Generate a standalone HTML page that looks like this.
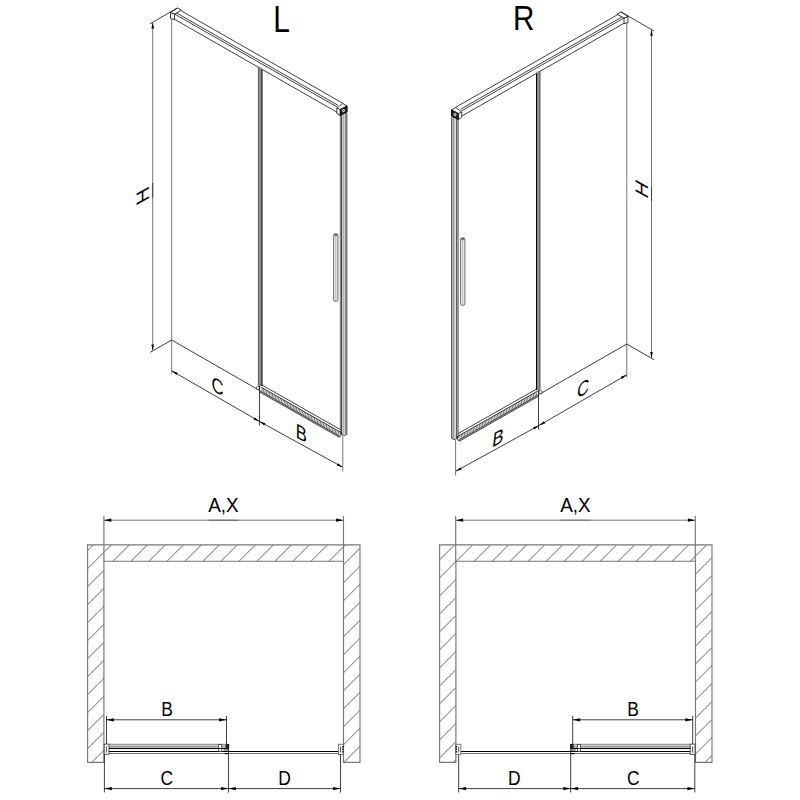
<!DOCTYPE html>
<html lang="en"><head><meta charset="utf-8"><title>Sliding door dimensions L / R</title>
<style>html,body{margin:0;padding:0;background:#fff}svg{display:block}</style></head><body>
<svg width="800" height="800" viewBox="0 0 800 800" font-family="'Liberation Sans', Arial, sans-serif">
<rect width="800" height="800" fill="#fff"/>
<defs>
<g id="iso" stroke="#000" stroke-width="0.75" fill="none">
<line x1="171.70" y1="18.50" x2="171.70" y2="373.50" stroke="#777" stroke-width="1"/>
<line x1="171.70" y1="340.00" x2="259.40" y2="390.40" />
<line x1="181.50" y1="11.00" x2="343.20" y2="103.49" />
<line x1="175.50" y1="12.37" x2="338.00" y2="105.32" />
<line x1="175.00" y1="14.28" x2="337.30" y2="107.12" />
<line x1="174.50" y1="19.29" x2="337.00" y2="112.24" />
<polygon points="170.5,12.5 174.5,14 174.5,19.6 170.5,18.5" fill="#fff"/>
<polygon points="170.5,12.5 177.5,7.9 181.5,10.2 174.5,14" fill="#fff"/>
<rect x="258.5" y="67.5" width="3.5" height="318.5" fill="#8c8c8c" stroke="none"/>
<line x1="258.40" y1="67.20" x2="258.40" y2="386.00" stroke-width="0.7" stroke="#333"/>
<line x1="262.00" y1="69.40" x2="262.00" y2="386.00" stroke-width="1.0"/>
<rect x="340.2" y="114" width="6.6" height="320.5" fill="#f6f6f6" stroke="none"/>
<line x1="340.30" y1="113.00" x2="340.30" y2="434.50" stroke="#333" stroke-width="0.7"/>
<line x1="341.70" y1="113.00" x2="341.70" y2="434.50" stroke="#000" stroke-width="0.9"/>
<line x1="343.60" y1="113.00" x2="343.60" y2="434.50" stroke="#777" stroke-width="0.6"/>
<line x1="345.30" y1="113.00" x2="345.30" y2="434.50" stroke="#333" stroke-width="0.7"/>
<line x1="346.80" y1="113.00" x2="346.80" y2="434.50" stroke="#111" stroke-width="0.8"/>
<polyline points="341.6,434.5 344.4,435.6 346.8,434.3"/>
<polygon points="336.8,108.2 342.6,103.5 347,105.8 347,112 340,115.4 336.8,113.6" fill="#fff"/>
<polygon points="340,109.4 347,105.8 347,112 340,115.4" fill="#222"/>
<circle cx="343.5" cy="110.6" r="1.8" fill="#e8e8e8" stroke-width="0.5"/>
<circle cx="343.6" cy="110.6" r="0.5" fill="#000" stroke="none"/>
<line x1="336.80" y1="108.20" x2="340.00" y2="109.40" />
<line x1="261.50" y1="384.77" x2="340.30" y2="429.53" />
<line x1="260.50" y1="386.80" x2="341.00" y2="432.53" />
<line x1="260.00" y1="390.92" x2="340.50" y2="436.64" />
<line x1="259.50" y1="391.94" x2="339.50" y2="437.38" />
<line x1="262.40" y1="387.86" x2="261.60" y2="391.86" stroke-width="0.6" stroke="#222"/>
<line x1="263.90" y1="388.71" x2="263.10" y2="392.71" stroke-width="0.6" stroke="#222"/>
<line x1="265.40" y1="389.56" x2="264.60" y2="393.56" stroke-width="0.6" stroke="#222"/>
<line x1="266.90" y1="390.41" x2="266.10" y2="394.41" stroke-width="0.6" stroke="#222"/>
<line x1="268.40" y1="391.26" x2="267.60" y2="395.26" stroke-width="0.6" stroke="#222"/>
<line x1="269.90" y1="392.12" x2="269.10" y2="396.12" stroke-width="0.6" stroke="#222"/>
<line x1="271.40" y1="392.97" x2="270.60" y2="396.97" stroke-width="0.6" stroke="#222"/>
<line x1="272.90" y1="393.82" x2="272.10" y2="397.82" stroke-width="0.6" stroke="#222"/>
<line x1="274.40" y1="394.67" x2="273.60" y2="398.67" stroke-width="0.6" stroke="#222"/>
<line x1="275.90" y1="395.52" x2="275.10" y2="399.52" stroke-width="0.6" stroke="#222"/>
<line x1="277.40" y1="396.38" x2="276.60" y2="400.38" stroke-width="0.6" stroke="#222"/>
<line x1="278.90" y1="397.23" x2="278.10" y2="401.23" stroke-width="0.6" stroke="#222"/>
<line x1="280.40" y1="398.08" x2="279.60" y2="402.08" stroke-width="0.6" stroke="#222"/>
<line x1="281.90" y1="398.93" x2="281.10" y2="402.93" stroke-width="0.6" stroke="#222"/>
<line x1="283.40" y1="399.78" x2="282.60" y2="403.78" stroke-width="0.6" stroke="#222"/>
<line x1="284.90" y1="400.64" x2="284.10" y2="404.64" stroke-width="0.6" stroke="#222"/>
<line x1="286.40" y1="401.49" x2="285.60" y2="405.49" stroke-width="0.6" stroke="#222"/>
<line x1="287.90" y1="402.34" x2="287.10" y2="406.34" stroke-width="0.6" stroke="#222"/>
<line x1="289.40" y1="403.19" x2="288.60" y2="407.19" stroke-width="0.6" stroke="#222"/>
<line x1="290.90" y1="404.04" x2="290.10" y2="408.04" stroke-width="0.6" stroke="#222"/>
<line x1="292.40" y1="404.90" x2="291.60" y2="408.90" stroke-width="0.6" stroke="#222"/>
<line x1="293.90" y1="405.75" x2="293.10" y2="409.75" stroke-width="0.6" stroke="#222"/>
<line x1="295.40" y1="406.60" x2="294.60" y2="410.60" stroke-width="0.6" stroke="#222"/>
<line x1="296.90" y1="407.45" x2="296.10" y2="411.45" stroke-width="0.6" stroke="#222"/>
<line x1="298.40" y1="408.30" x2="297.60" y2="412.30" stroke-width="0.6" stroke="#222"/>
<line x1="299.90" y1="409.16" x2="299.10" y2="413.16" stroke-width="0.6" stroke="#222"/>
<line x1="301.40" y1="410.01" x2="300.60" y2="414.01" stroke-width="0.6" stroke="#222"/>
<line x1="302.90" y1="410.86" x2="302.10" y2="414.86" stroke-width="0.6" stroke="#222"/>
<line x1="304.40" y1="411.71" x2="303.60" y2="415.71" stroke-width="0.6" stroke="#222"/>
<line x1="305.90" y1="412.56" x2="305.10" y2="416.56" stroke-width="0.6" stroke="#222"/>
<line x1="307.40" y1="413.42" x2="306.60" y2="417.42" stroke-width="0.6" stroke="#222"/>
<line x1="308.90" y1="414.27" x2="308.10" y2="418.27" stroke-width="0.6" stroke="#222"/>
<line x1="310.40" y1="415.12" x2="309.60" y2="419.12" stroke-width="0.6" stroke="#222"/>
<line x1="311.90" y1="415.97" x2="311.10" y2="419.97" stroke-width="0.6" stroke="#222"/>
<line x1="313.40" y1="416.82" x2="312.60" y2="420.82" stroke-width="0.6" stroke="#222"/>
<line x1="314.90" y1="417.68" x2="314.10" y2="421.68" stroke-width="0.6" stroke="#222"/>
<line x1="316.40" y1="418.53" x2="315.60" y2="422.53" stroke-width="0.6" stroke="#222"/>
<line x1="317.90" y1="419.38" x2="317.10" y2="423.38" stroke-width="0.6" stroke="#222"/>
<line x1="319.40" y1="420.23" x2="318.60" y2="424.23" stroke-width="0.6" stroke="#222"/>
<line x1="320.90" y1="421.08" x2="320.10" y2="425.08" stroke-width="0.6" stroke="#222"/>
<line x1="322.40" y1="421.94" x2="321.60" y2="425.94" stroke-width="0.6" stroke="#222"/>
<line x1="323.90" y1="422.79" x2="323.10" y2="426.79" stroke-width="0.6" stroke="#222"/>
<line x1="325.40" y1="423.64" x2="324.60" y2="427.64" stroke-width="0.6" stroke="#222"/>
<line x1="326.90" y1="424.49" x2="326.10" y2="428.49" stroke-width="0.6" stroke="#222"/>
<line x1="328.40" y1="425.34" x2="327.60" y2="429.34" stroke-width="0.6" stroke="#222"/>
<line x1="329.90" y1="426.20" x2="329.10" y2="430.20" stroke-width="0.6" stroke="#222"/>
<line x1="331.40" y1="427.05" x2="330.60" y2="431.05" stroke-width="0.6" stroke="#222"/>
<line x1="332.90" y1="427.90" x2="332.10" y2="431.90" stroke-width="0.6" stroke="#222"/>
<line x1="334.40" y1="428.75" x2="333.60" y2="432.75" stroke-width="0.6" stroke="#222"/>
<line x1="335.90" y1="429.60" x2="335.10" y2="433.60" stroke-width="0.6" stroke="#222"/>
<line x1="337.40" y1="430.46" x2="336.60" y2="434.46" stroke-width="0.6" stroke="#222"/>
<line x1="338.90" y1="431.31" x2="338.10" y2="435.31" stroke-width="0.6" stroke="#222"/>
<polygon points="256.2,387.6 258.8,386.2 259.8,388.6 257.2,390" fill="#fff" stroke-width="0.6"/>
<polyline points="339.5,436.7 341.2,435.2 341.2,432.2"/>
<rect x="333.6" y="233.8" width="4.3" height="67.6" rx="2.1" ry="1.5" fill="#f2f2f2" stroke="#333" stroke-width="0.7"/>
<line x1="335.80" y1="236.00" x2="335.80" y2="301.00" stroke="#999" stroke-width="0.7"/>
<ellipse cx="335.7" cy="235" rx="1.3" ry="0.8" stroke-width="0.6"/>
<line x1="171.70" y1="370.80" x2="259.40" y2="421.40" /><polygon points="171.70,370.80 177.72,372.77 176.42,375.02" fill="#000" stroke="none"/><polygon points="259.40,421.40 253.38,419.43 254.68,417.18" fill="#000" stroke="none"/>
<line x1="259.40" y1="421.40" x2="342.80" y2="467.30" /><polygon points="259.40,421.40 265.46,423.25 264.20,425.53" fill="#000" stroke="none"/><polygon points="342.80,467.30 336.74,465.45 338.00,463.17" fill="#000" stroke="none"/>
</g>
<g id="planc" stroke="#000" stroke-width="0.75" fill="none">
<line x1="103.90" y1="516.00" x2="103.90" y2="561.20" stroke="#777" stroke-width="1.15"/>
<line x1="343.50" y1="516.00" x2="343.50" y2="561.20" stroke="#777" stroke-width="1.15"/>
<g stroke="#777" stroke-width="1"><line x1="103.90" y1="520.20" x2="343.50" y2="520.20" /><polygon points="103.90,520.20 111.30,518.55 111.30,521.85" fill="#000" stroke="none"/><polygon points="343.50,520.20 336.10,521.85 336.10,518.55" fill="#000" stroke="none"/></g>
<line x1="106.50" y1="716.00" x2="106.50" y2="744.00" />
<line x1="226.50" y1="716.00" x2="226.50" y2="748.00" />
<line x1="106.50" y1="719.80" x2="226.50" y2="719.80" /><polygon points="106.50,719.80 113.90,718.15 113.90,721.45" fill="#000" stroke="none"/><polygon points="226.50,719.80 219.10,721.45 219.10,718.15" fill="#000" stroke="none"/>
<line x1="104.40" y1="754.00" x2="104.40" y2="792.50" />
<line x1="228.50" y1="744.00" x2="228.50" y2="792.50" />
<line x1="340.50" y1="747.50" x2="340.50" y2="792.50" />
<line x1="104.40" y1="788.60" x2="228.50" y2="788.60" /><polygon points="104.40,788.60 111.80,786.95 111.80,790.25" fill="#000" stroke="none"/><polygon points="228.50,788.60 221.10,790.25 221.10,786.95" fill="#000" stroke="none"/>
<line x1="228.50" y1="788.60" x2="340.50" y2="788.60" /><polygon points="228.50,788.60 235.90,786.95 235.90,790.25" fill="#000" stroke="none"/><polygon points="340.50,788.60 333.10,790.25 333.10,786.95" fill="#000" stroke="none"/>
<rect x="104.2" y="744.1" width="4.8" height="10.2" fill="#fff" stroke="#333" stroke-width="0.8"/>
<line x1="106.60" y1="746.50" x2="106.60" y2="752.50" stroke-width="0.7"/>
<line x1="109.00" y1="744.30" x2="228.50" y2="744.30" stroke="#666" stroke-width="0.8"/>
<line x1="109.00" y1="746.20" x2="227.00" y2="746.20" stroke="#444" stroke-width="0.8"/>
<line x1="109.00" y1="748.40" x2="228.50" y2="748.40" stroke-width="1.1"/>
<line x1="109.00" y1="751.50" x2="340.00" y2="751.50" stroke-width="1.1"/>
<line x1="109.00" y1="753.50" x2="340.00" y2="753.50" stroke="#555" stroke-width="0.8"/>
<rect x="218.8" y="744.3" width="3" height="4" fill="#fff" stroke-width="0.6"/>
<rect x="218.8" y="748.6" width="3" height="3" fill="#fff" stroke-width="0.6"/>
<rect x="225.6" y="744" width="3.6" height="4.2" fill="#222" stroke="none"/>
<line x1="223.50" y1="750.00" x2="228.50" y2="750.00" stroke-width="0.8"/>
<line x1="224.50" y1="753.60" x2="229.00" y2="753.60" stroke-width="1.1"/>
<rect x="338.3" y="744.2" width="5" height="10.2" fill="#fff" stroke="#444" stroke-width="0.7"/>
<line x1="340.50" y1="746.50" x2="340.50" y2="752.50" stroke-width="0.7"/>
<line x1="342.80" y1="746.00" x2="342.80" y2="752.50" stroke-width="1.2" stroke-dasharray="1.5 1"/>
</g>
</defs>
<use href="#iso"/>
<use href="#iso" transform="translate(798.5,4) scale(-1,1)"/>
<g stroke="#000" stroke-width="0.75" fill="none">
<line x1="259.50" y1="386.00" x2="259.50" y2="425.60" />
<line x1="342.80" y1="436.00" x2="342.80" y2="471.50" stroke="#777" stroke-width="1"/>
<line x1="538.50" y1="390.00" x2="538.50" y2="429.60" />
<line x1="455.60" y1="440.00" x2="455.60" y2="475.50" stroke="#777" stroke-width="1"/>
<line x1="177.50" y1="7.90" x2="150.00" y2="23.80" />
<line x1="171.70" y1="340.00" x2="150.20" y2="352.30" />
<g stroke="#777" stroke-width="1"><line x1="152.70" y1="22.30" x2="152.70" y2="350.80" /><polygon points="152.70,22.30 154.00,28.50 151.40,28.50" fill="#000" stroke="none"/><polygon points="152.70,350.80 151.40,344.60 154.00,344.60" fill="#000" stroke="none"/></g>
<line x1="621.00" y1="11.90" x2="654.00" y2="31.00" />
<line x1="626.80" y1="344.00" x2="654.00" y2="359.70" />
<g stroke="#777" stroke-width="1"><line x1="651.50" y1="29.60" x2="651.50" y2="358.20" /><polygon points="651.50,29.60 652.80,35.80 650.20,35.80" fill="#000" stroke="none"/><polygon points="651.50,358.20 650.20,352.00 652.80,352.00" fill="#000" stroke="none"/></g>
</g>
<g fill="none"><clipPath id="cw1"><path d="M87.6,544.9 H360.0 V762.4 H343.5 V561.2 H103.9 V762.4 H87.6 Z"/></clipPath>
<path d="M85.60,534.70 L362.00,258.30 M85.60,552.70 L362.00,276.30 M85.60,570.70 L362.00,294.30 M85.60,588.70 L362.00,312.30 M85.60,606.70 L362.00,330.30 M85.60,624.70 L362.00,348.30 M85.60,642.70 L362.00,366.30 M85.60,660.70 L362.00,384.30 M85.60,678.70 L362.00,402.30 M85.60,696.70 L362.00,420.30 M85.60,714.70 L362.00,438.30 M85.60,732.70 L362.00,456.30 M85.60,750.70 L362.00,474.30 M85.60,768.70 L362.00,492.30 M85.60,786.70 L362.00,510.30 M85.60,804.70 L362.00,528.30 M85.60,822.70 L362.00,546.30 M85.60,840.70 L362.00,564.30 M85.60,858.70 L362.00,582.30 M85.60,876.70 L362.00,600.30 M85.60,894.70 L362.00,618.30 M85.60,912.70 L362.00,636.30 M85.60,930.70 L362.00,654.30 M85.60,948.70 L362.00,672.30 M85.60,966.70 L362.00,690.30 M85.60,984.70 L362.00,708.30 M85.60,1002.70 L362.00,726.30 M85.60,1020.70 L362.00,744.30 M85.60,1038.70 L362.00,762.30 M85.60,1056.70 L362.00,780.30" clip-path="url(#cw1)" stroke="#222" stroke-width="0.7"/>
<path d="M87.6,544.9 H360.0 V762.4 H343.5 V561.2 H103.9 V762.4 H87.6 Z" stroke="#777" stroke-width="1.15"/></g>
<use href="#planc"/>
<g fill="none" transform="translate(352,0)"><clipPath id="cw2"><path d="M87.6,544.9 H360.0 V762.4 H343.5 V561.2 H103.9 V762.4 H87.6 Z"/></clipPath>
<path d="M85.60,543.90 L362.00,267.50 M85.60,561.90 L362.00,285.50 M85.60,579.90 L362.00,303.50 M85.60,597.90 L362.00,321.50 M85.60,615.90 L362.00,339.50 M85.60,633.90 L362.00,357.50 M85.60,651.90 L362.00,375.50 M85.60,669.90 L362.00,393.50 M85.60,687.90 L362.00,411.50 M85.60,705.90 L362.00,429.50 M85.60,723.90 L362.00,447.50 M85.60,741.90 L362.00,465.50 M85.60,759.90 L362.00,483.50 M85.60,777.90 L362.00,501.50 M85.60,795.90 L362.00,519.50 M85.60,813.90 L362.00,537.50 M85.60,831.90 L362.00,555.50 M85.60,849.90 L362.00,573.50 M85.60,867.90 L362.00,591.50 M85.60,885.90 L362.00,609.50 M85.60,903.90 L362.00,627.50 M85.60,921.90 L362.00,645.50 M85.60,939.90 L362.00,663.50 M85.60,957.90 L362.00,681.50 M85.60,975.90 L362.00,699.50 M85.60,993.90 L362.00,717.50 M85.60,1011.90 L362.00,735.50 M85.60,1029.90 L362.00,753.50 M85.60,1047.90 L362.00,771.50" clip-path="url(#cw2)" stroke="#222" stroke-width="0.7"/>
<path d="M87.6,544.9 H360.0 V762.4 H343.5 V561.2 H103.9 V762.4 H87.6 Z" stroke="#777" stroke-width="1.15"/></g>
<line x1="208.80" y1="520.20" x2="238.20" y2="520.20" stroke="#555" stroke-width="0.8"/>
<line x1="560.60" y1="520.20" x2="590.00" y2="520.20" stroke="#555" stroke-width="0.8"/>
<line x1="152.70" y1="183.00" x2="152.70" y2="197.50" stroke="#333" stroke-width="0.9"/>
<line x1="651.50" y1="187.00" x2="651.50" y2="201.00" stroke="#333" stroke-width="0.9"/>
<use href="#planc" transform="translate(799.2,0) scale(-1,1)"/>
<g fill="#000">
<text font-size="36.1" text-anchor="middle" transform="translate(281.7,31.7) scale(0.83,1)">L</text>
<text x="523.8" y="29.9" font-size="35.3" text-anchor="middle" textLength="21.4" lengthAdjust="spacingAndGlyphs">R</text>
<text x="223.5" y="511.8" font-size="20.8" text-anchor="middle" textLength="30.5" lengthAdjust="spacingAndGlyphs">A,X</text>
<text x="575.4" y="511.8" font-size="20.8" text-anchor="middle" textLength="30.5" lengthAdjust="spacingAndGlyphs">A,X</text>
<text font-size="20.8" text-anchor="middle" transform="translate(167,716) scale(0.84,1)">B</text>
<text font-size="20.8" text-anchor="middle" transform="translate(166.8,784.5) scale(0.84,1)">C</text>
<text font-size="20.8" text-anchor="middle" transform="translate(284.5,784.5) scale(0.84,1)">D</text>
<text font-size="20.8" text-anchor="middle" transform="translate(633,716) scale(0.84,1)">B</text>
<text font-size="20.8" text-anchor="middle" transform="translate(633.2,784.5) scale(0.84,1)">C</text>
<text font-size="20.8" text-anchor="middle" transform="translate(514.4,784.5) scale(0.84,1)">D</text>
<text font-size="19.2" text-anchor="middle" transform="matrix(0.87,0.4829,0.0000,1.08,217.6,393.4)">C</text>
<text font-size="19.2" text-anchor="middle" transform="matrix(0.87,0.4829,0.0000,1.08,301.2,440.4)">B</text>
<text font-size="19.2" text-anchor="middle" transform="matrix(0.87,-0.4829,-0.0972,1.08,582.6,395.4)">C</text>
<text font-size="19.2" text-anchor="middle" transform="matrix(0.87,-0.4829,-0.1188,1.08,497.4,444.6)">B</text>
<text font-size="19.2" text-anchor="middle" transform="matrix(0,-1.06,0.94,-0.5217,149.2,192.5)">H</text>
<text font-size="19.2" text-anchor="middle" transform="matrix(0,-1.06,0.94,0.5217,648.2,192.4)">H</text>
</g>
</svg></body></html>
